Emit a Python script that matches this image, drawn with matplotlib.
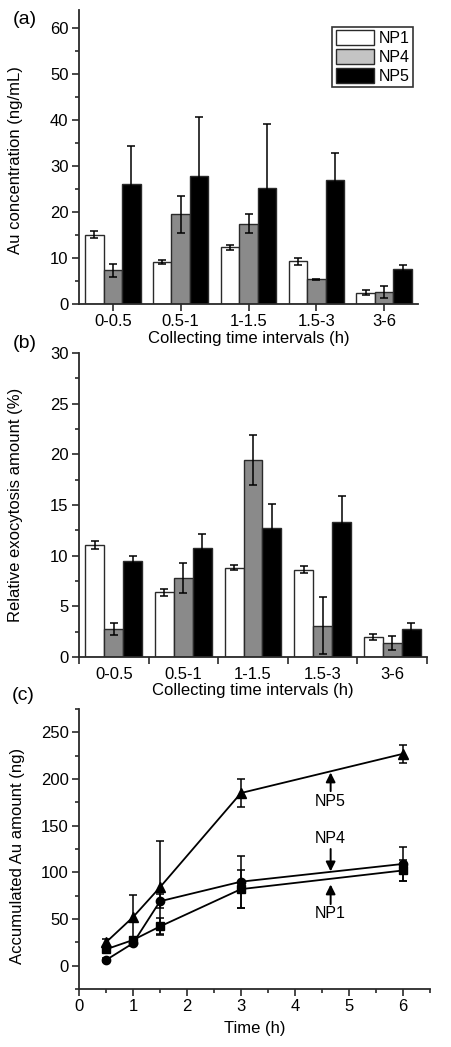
import numpy as np
import matplotlib.pyplot as plt
from matplotlib.patches import Patch
from matplotlib.ticker import MultipleLocator

plt.rcParams['font.family'] = ['Liberation Sans', 'DejaVu Sans']
plt.rcParams['font.size'] = 12

# ---- data ----
intervals = ['0-0.5', '0.5-1', '1-1.5', '1.5-3', '3-6']

conc_np1 = [15.1, 9.1, 12.3, 9.3, 2.5]
conc_np1_err = [0.7, 0.4, 0.5, 0.8, 0.5]
conc_np4 = [7.3, 19.5, 17.5, 5.4, 2.6]
conc_np4_err = [1.5, 4.0, 2.0, 0.15, 1.3]
conc_np5 = [26.2, 27.8, 25.2, 26.9, 7.6]
conc_np5_err = [8.3, 12.8, 14.0, 6.0, 0.8]

exo_np1 = [11.06, 6.37, 8.81, 8.61, 1.98]
exo_np1_err = [0.4, 0.35, 0.25, 0.35, 0.28]
exo_np4 = [2.77, 7.79, 19.44, 3.1, 1.39]
exo_np4_err = [0.6, 1.5, 2.5, 2.8, 0.65]
exo_np5 = [9.44, 10.79, 12.77, 13.33, 2.8]
exo_np5_err = [0.5, 1.35, 2.3, 2.6, 0.55]

time_h = [0.5, 1, 1.5, 3, 6]
acc_np1 = [17.5, 27.5, 42, 82, 102]
acc_np1_err = [3, 3, 9, 20, 11]
acc_np4 = [6, 24, 69, 90, 109]
acc_np4_err = [2, 3, 7.5, 28, 18]
acc_np5 = [25, 52, 84, 185, 227]
acc_np5_err = [4, 24, 50, 15, 9.5]

C_NP1, C_NP4, C_NP5 = 'white', '#8a8a8a', 'black'
EDGE = '#2a2a2a'

W, H = 451, 1047
fig = plt.figure(figsize=(W / 100, H / 100), dpi=100)


def px_axes(left, top, right, bottom):
    return fig.add_axes([left / W, 1 - bottom / H, (right - left) / W, (bottom - top) / H])


def style(ax):
    for s in ['top', 'right']:
        ax.spines[s].set_visible(False)
    for s in ['left', 'bottom']:
        ax.spines[s].set_color(EDGE)
        ax.spines[s].set_linewidth(1.3)
    ax.tick_params(which='both', direction='out', color=EDGE, width=1.2)
    ax.tick_params(which='major', length=5, pad=2.5)
    ax.tick_params(which='minor', length=3)


def bars(ax, s1, e1, s4, e4, s5, e5):
    x = np.arange(len(intervals))
    w = 0.272
    kw = dict(width=w, edgecolor=EDGE, linewidth=1.0, zorder=2,
              error_kw=dict(ecolor='black', elinewidth=1.1, capsize=3, capthick=1.1, zorder=3))
    ax.bar(x - w, s1, yerr=e1, color=C_NP1, **kw)
    ax.bar(x, s4, yerr=e4, color=C_NP4, **kw)
    ax.bar(x + w, s5, yerr=e5, color=C_NP5, **kw)
    ax.set_xlim(-0.5, len(intervals) - 0.5)
    return x


# (a) Au concentration
ax1 = px_axes(79, 10, 418, 304)
style(ax1)
x = bars(ax1, conc_np1, conc_np1_err, conc_np4, conc_np4_err, conc_np5, conc_np5_err)
ax1.set_ylim(0, 64)
ax1.yaxis.set_major_locator(MultipleLocator(10))
ax1.yaxis.set_minor_locator(MultipleLocator(5))
ax1.set_xticks(x, intervals)
ax1.set_xlabel('Collecting time intervals (h)', labelpad=1)
ax1.set_ylabel('Au concentration (ng/mL)')
ax1.yaxis.set_label_coords(-0.165, 0.49)
handles = [Patch(fc='white', ec=EDGE, lw=1.0), Patch(fc='#c4c4c4', ec=EDGE, lw=1.0),
           Patch(fc='black', ec=EDGE, lw=1.0)]
leg = ax1.legend(handles, ['NP1', 'NP4', 'NP5'], loc='upper right', bbox_to_anchor=(0.985, 0.942),
                 fontsize=11.5, handlelength=2.4, handleheight=1.05, labelspacing=0.18,
                 handletextpad=0.3, borderpad=0.2, borderaxespad=0, fancybox=False,
                 edgecolor='#333333', framealpha=1)
leg.get_frame().set_linewidth(1.2)

# (b) relative exocytosis
ax2 = px_axes(79, 353, 427, 657)
style(ax2)
x = bars(ax2, exo_np1, exo_np1_err, exo_np4, exo_np4_err, exo_np5, exo_np5_err)
ax2.set_ylim(0, 30)
ax2.yaxis.set_major_locator(MultipleLocator(5))
ax2.yaxis.set_minor_locator(MultipleLocator(2.5))
ax2.set_xticks(x, intervals)
ax2.tick_params(axis='x', which='major', length=0, pad=7)
ax2.set_xticks(np.arange(-0.5, len(intervals)), minor=True)
ax2.tick_params(axis='x', which='minor', length=5)
ax2.set_xlabel('Collecting time intervals (h)', labelpad=1)
ax2.set_ylabel('Relative exocytosis amount (%)')
ax2.yaxis.set_label_coords(-0.16, 0.5)

# (c) accumulated Au amount
ax3 = px_axes(79, 709, 430, 989)
style(ax3)
lkw = dict(color='black', lw=1.3, ecolor='black', elinewidth=1.1, capsize=3, capthick=1.1)
ax3.errorbar(time_h, acc_np1, yerr=acc_np1_err, fmt='-s', ms=5.5, **lkw)
ax3.errorbar(time_h, acc_np4, yerr=acc_np4_err, fmt='-o', ms=6, **lkw)
ax3.errorbar(time_h, acc_np5, yerr=acc_np5_err, fmt='-^', ms=6.5, **lkw)
ax3.set_xlim(0, 6.5)
ax3.set_ylim(-25, 275)
ax3.xaxis.set_major_locator(MultipleLocator(1))
ax3.xaxis.set_minor_locator(MultipleLocator(0.5))
ax3.yaxis.set_major_locator(MultipleLocator(50))
ax3.yaxis.set_minor_locator(MultipleLocator(25))
ax3.set_xlabel('Time (h)', labelpad=5)
ax3.set_ylabel('Accumulated Au amount (ng)')
ax3.yaxis.set_label_coords(-0.155, 0.475)

akw = dict(arrowstyle='-|>', color='black', lw=1.4, mutation_scale=14, shrinkA=0, shrinkB=0)
ax3.annotate('', xy=(4.66, 207), xytext=(4.66, 187), arrowprops=akw)
ax3.text(4.66, 176, 'NP5', ha='center', va='center', fontsize=11.5)
ax3.annotate('', xy=(4.66, 101), xytext=(4.66, 125), arrowprops=akw)
ax3.text(4.66, 136, 'NP4', ha='center', va='center', fontsize=11.5)
ax3.annotate('', xy=(4.66, 87), xytext=(4.66, 66), arrowprops=akw)
ax3.text(4.66, 56, 'NP1', ha='center', va='center', fontsize=11.5)

# panel letters
for lbl, (px, py) in {'(a)': (25, 19), '(b)': (25, 344), '(c)': (23, 696)}.items():
    fig.text(px / W, 1 - py / H, lbl, ha='center', va='center', fontsize=14)

fig.savefig('out.png', dpi=100)
